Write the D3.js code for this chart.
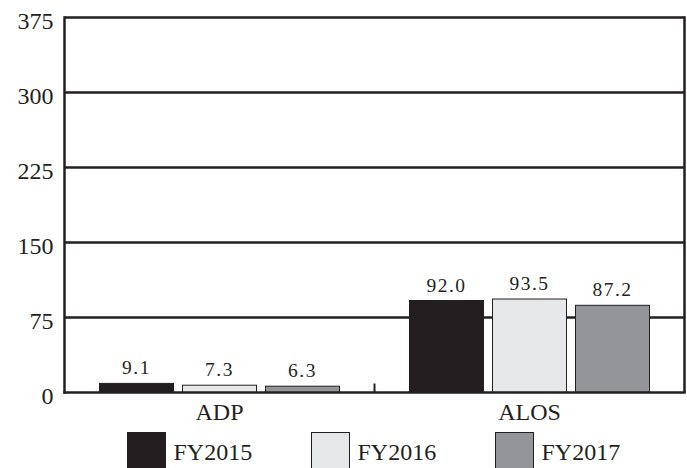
<!DOCTYPE html>
<html>
<head>
<meta charset="utf-8">
<script src="https://cdn.jsdelivr.net/npm/d3@7"></script>
<style>
  html, body { margin: 0; padding: 0; background: #ffffff; }
  svg { display: block; }
  text { font-family: "Liberation Serif", "Times New Roman", serif; fill: #231f20; }
</style>
</head>
<body>
<svg id="chart" width="687" height="468"></svg>
<script>
// ---- Data ----
const categories = ["ADP", "ALOS"];
const seriesNames = ["FY2015", "FY2016", "FY2017"];
const fy2015 = [9.1, 92.0];
const fy2016 = [7.3, 93.5];
const fy2017 = [6.3, 87.2];
const yTicks = [0, 75, 150, 225, 300, 375];
const seriesColors = ["#231f20", "#e6e7e8", "#939598"];

const seriesValues = [fy2015, fy2016, fy2017];

// ---- Layout ----
const svg = d3.select("#chart");
const pLeft = 64.5, pRight = 684.5, pTop = 17.5, pBottom = 392.5;
const ink = "#231f20";

const y = d3.scaleLinear().domain([0, 375]).range([pBottom, pTop]);
const x0 = d3.scaleBand().domain(categories).range([pLeft, pRight]).padding(0);
const groupW = 240;
const x1 = d3.scaleBand().domain(seriesNames).range([0, groupW]).paddingInner(3 - groupW / 83).paddingOuter(0);
const groupOffset = (x0.bandwidth() - groupW) / 2;

// gridlines
svg.append("g").selectAll("line")
  .data(yTicks.filter(d => d > 0))
  .join("line")
  .attr("x1", pLeft).attr("x2", pRight)
  .attr("y1", d => y(d)).attr("y2", d => y(d))
  .attr("stroke", ink).attr("stroke-width", 2.5);

// right border
svg.append("line")
  .attr("x1", pRight).attr("x2", pRight)
  .attr("y1", pTop - 1.25).attr("y2", pBottom)
  .attr("stroke", ink).attr("stroke-width", 2.5);

// bars
const groups = svg.append("g").selectAll("g")
  .data(categories)
  .join("g")
  .attr("transform", d => `translate(${x0(d) + groupOffset},0)`);

groups.selectAll("rect")
  .data((c, ci) => seriesNames.map((s, si) => ({ s, si, v: seriesValues[si][ci] })))
  .join("rect")
  .attr("x", d => x1(d.s))
  .attr("width", x1.bandwidth())
  .attr("y", d => y(d.v))
  .attr("height", d => pBottom - y(d.v))
  .attr("fill", d => seriesColors[d.si])
  .attr("stroke", ink)
  .attr("stroke-width", 1);

groups.selectAll("text.val")
  .data((c, ci) => seriesNames.map((s, si) => ({ s, si, v: seriesValues[si][ci] })))
  .join("text")
  .attr("class", "val")
  .attr("x", d => x1(d.s) + x1.bandwidth() / 2)
  .attr("y", d => y(d.v) - 9)
  .attr("text-anchor", "middle")
  .style("font-size", "19.5px")
  .style("letter-spacing", "1.5px")
  .text(d => d.v.toFixed(1));

// y axis
const yAxis = svg.append("g")
  .attr("transform", `translate(${pLeft},0)`)
  .call(d3.axisLeft(y).tickValues(yTicks).tickSize(0).tickPadding(11).tickFormat(d3.format("d")));
yAxis.select(".domain").attr("stroke", ink).attr("stroke-width", 2.5)
  .attr("d", `M0,${pTop - 1.25}V${pBottom + 1.25}`);
yAxis.selectAll("text")
  .style("font-size", "24px")
  .attr("font-family", null)
  .attr("dy", "0.45em");

// x axis
const xAxis = svg.append("g")
  .attr("transform", `translate(0,${pBottom})`)
  .call(d3.axisBottom(x0).tickSize(0).tickPadding(27));
xAxis.select(".domain").attr("stroke", ink).attr("stroke-width", 2.5)
  .attr("d", `M${pLeft - 1.25},0H${pRight + 1.25}`);
xAxis.selectAll("text")
  .style("font-size", "24px")
  .attr("font-family", null)
  .attr("dy", "0");

// category separator tick
svg.append("line")
  .attr("x1", x0("ALOS")).attr("x2", x0("ALOS"))
  .attr("y1", pBottom).attr("y2", pBottom - 9)
  .attr("stroke", ink).attr("stroke-width", 2);

// legend
const legend = svg.append("g").selectAll("g")
  .data(seriesNames)
  .join("g")
  .attr("transform", (d, i) => `translate(${127.5 + i * 184},432.5)`);
legend.append("rect")
  .attr("width", 38).attr("height", 38)
  .attr("fill", (d, i) => seriesColors[i])
  .attr("stroke", ink).attr("stroke-width", 1);
legend.append("text")
  .attr("x", 46).attr("y", 27)
  .style("font-size", "24px")
  .text(d => d);
</script>
</body>
</html>
